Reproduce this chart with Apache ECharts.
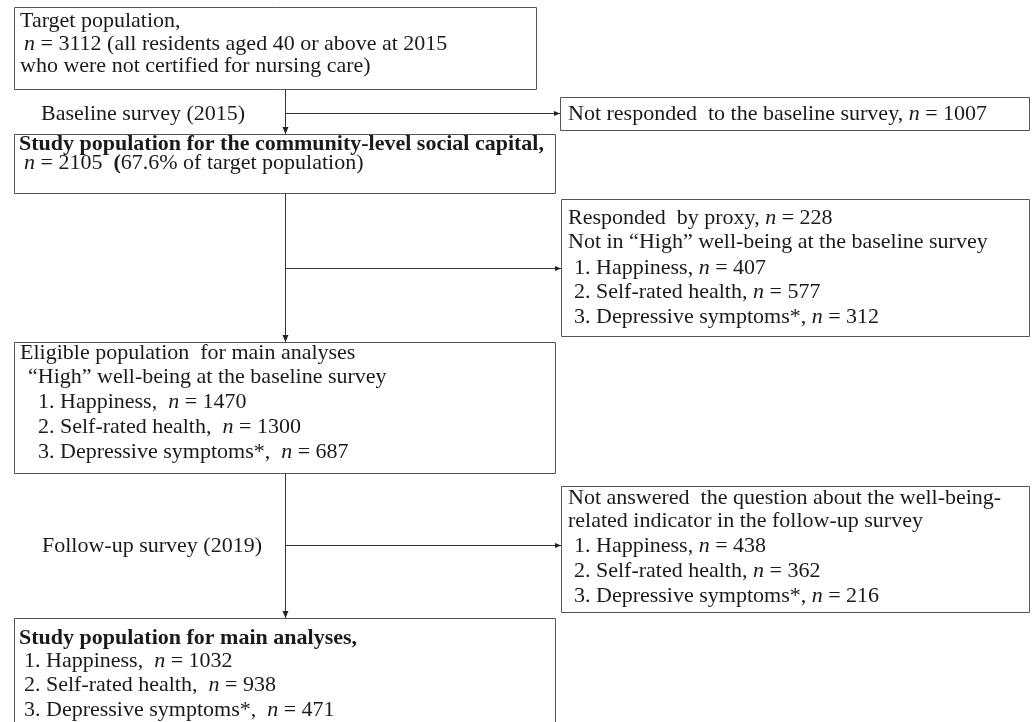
<!DOCTYPE html>
<html>
<head>
<meta charset="utf-8">
<script src="https://cdn.jsdelivr.net/npm/echarts@6/dist/echarts.min.js"></script>
<style>
  html, body { margin: 0; padding: 0; background: #fff; }
  #flow { width: 1033px; height: 722px; }
</style>
</head>
<body>
<div id="flow"></div>
<script>
// counts
var outcomes = ['Happiness', 'Self-rated health', 'Depressive symptoms*'];
var targetN = 3112;
var notRespondedN = 1007;
var studyN = 2105;
var studyPct = 67.6;
var proxyN = 228;
var notHighN = [407, 577, 312];
var eligibleN = [1470, 1300, 687];
var notAnsweredN = [438, 362, 216];
var finalN = [1032, 938, 471];
var stepLabels = ['Baseline survey (2015)', 'Follow-up survey (2019)'];

var FONT = '"Liberation Serif", "Times New Roman", serif';
var SIZE = 22;
var INK = '#1a1a1a';
var EDGE = '#555';
var MAIN_X = 285;

function nTxt(v) { return '{i|n} = ' + v; }
function items(vals, gap) {
  return outcomes.map(function (o, k) {
    return (k + 1) + '. ' + o + ',' + (gap || ' ') + nTxt(vals[k]);
  });
}

// boxes: rect [x1, y1, x2, y2], lines [text, x, y]
var boxes = [
  { r: [14, 7, 536, 89], lines: [
    ['Target population,', 20, 21],
    [nTxt(targetN) + ' (all residents aged 40 or above at 2015', 24, 44],
    ['who were not certified for nursing care)', 20, 66]
  ]},
  { r: [14, 134, 555, 193], lines: [
    ['{b|Study population for the community-level social capital,}', 19, 144],
    [nTxt(studyN) + '  {b|(}' + studyPct + '% of target population)', 24, 163]
  ]},
  { r: [560, 97, 1029, 130], lines: [
    ['Not responded  to the baseline survey, ' + nTxt(notRespondedN), 568, 114]
  ]},
  { r: [561, 199, 1029, 336], lines: [
    ['Responded  by proxy, ' + nTxt(proxyN), 568, 218],
    ['Not in \u201cHigh\u201d well-being at the baseline survey', 568, 242]
  ].concat(items(notHighN).map(function (t, k) { return [t, 574, 268 + k * 24.5]; }))},
  { r: [14, 342, 555, 473], lines: [
    ['Eligible population  for main analyses', 20, 353],
    ['\u201cHigh\u201d well-being at the baseline survey', 28, 377]
  ].concat(items(eligibleN, '  ').map(function (t, k) { return [t, 38, 402 + k * 25]; }))},
  { r: [561, 486, 1029, 612], lines: [
    ['Not answered  the question about the well-being-', 568, 498],
    ['related indicator in the follow-up survey', 568, 521]
  ].concat(items(notAnsweredN).map(function (t, k) { return [t, 574, 546 + k * 25]; }))},
  { r: [14, 618, 555, 726], lines: [
    ['{b|Study population for main analyses,}', 19, 638]
  ].concat(items(finalN, '  ').map(function (t, k) { return [t, 24, 661 + k * 24.5]; }))}
];

var rich = {
  i: { fontStyle: 'italic', fontFamily: FONT, fontSize: SIZE, fill: INK },
  b: { fontWeight: 'bold', fontFamily: FONT, fontSize: SIZE, fill: INK }
};

var elements = [];
boxes.forEach(function (b) {
  elements.push({
    type: 'rect',
    shape: { x: b.r[0] + 0.5, y: b.r[1] + 0.5, width: b.r[2] - b.r[0], height: b.r[3] - b.r[1] },
    style: { fill: '#fff', stroke: EDGE, lineWidth: 1 }
  });
  b.lines.forEach(function (l) {
    elements.push({
      type: 'text', x: l[1], y: l[2],
      style: {
        text: l[0], rich: rich, fontFamily: FONT, fontSize: SIZE, fill: INK,
        verticalAlign: 'middle', align: 'left'
      }
    });
  });
});

function line(x1, y1, x2, y2) {
  elements.push({
    type: 'line', shape: { x1: x1, y1: y1, x2: x2, y2: y2 },
    style: { stroke: '#333', lineWidth: 1 }
  });
}
function arrowDown(x, y) {
  elements.push({ type: 'polygon', shape: { points: [[x - 3, y - 7], [x + 3, y - 7], [x, y]] }, style: { fill: '#222' } });
}
function arrowRight(x, y) {
  elements.push({ type: 'polygon', shape: { points: [[x - 6, y - 2.5], [x - 6, y + 2.5], [x, y]] }, style: { fill: '#222' } });
}

var mx = MAIN_X + 0.5;
// vertical trunk segments
[[89, 134], [193, 342], [473, 618]].forEach(function (s) {
  line(mx, s[0] + 0.5, mx, s[1]);
  arrowDown(mx, s[1]);
});
// side branches to exclusion boxes
[[113.5, 560], [268.5, 561], [545.5, 561]].forEach(function (s) {
  line(mx, s[0], s[1], s[0]);
  arrowRight(s[1], s[0]);
});

// step labels
[[stepLabels[0], 41, 114], [stepLabels[1], 42, 546]].forEach(function (l) {
  elements.push({
    type: 'text', x: l[1], y: l[2],
    style: { text: l[0], fontFamily: FONT, fontSize: SIZE, fill: INK, verticalAlign: 'middle' }
  });
});

var chart = echarts.init(document.getElementById('flow'));
chart.setOption({
  backgroundColor: '#fff',
  animation: false,
  graphic: { elements: elements }
});
</script>
</body>
</html>
